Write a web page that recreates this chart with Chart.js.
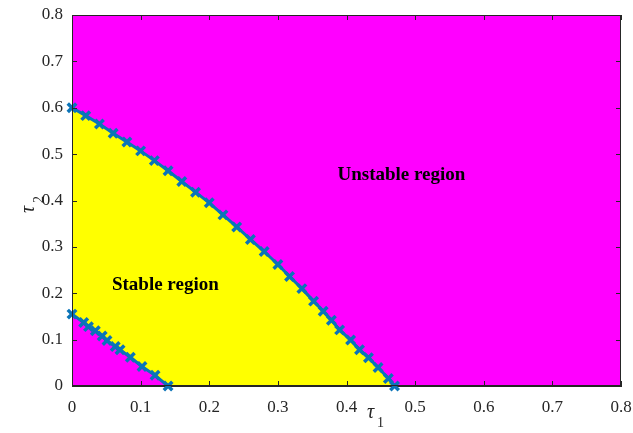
<!DOCTYPE html>
<html>
<head>
<meta charset="utf-8">
<script src="https://cdn.jsdelivr.net/npm/chart.js@4"></script>
<style>
  html, body { margin: 0; padding: 0; background: #fff; }
  #wrap { width: 633px; height: 433px; }
</style>
</head>
<body>
<div id="wrap"><canvas id="stab"></canvas></div>
<script>
// outer boundary of the stable region (tau1, tau2)
const outerX = [0, 0.02, 0.04, 0.06, 0.08, 0.10, 0.12, 0.14, 0.16, 0.18, 0.20, 0.22, 0.24, 0.26, 0.28, 0.30,
                0.317, 0.335, 0.352, 0.366, 0.378, 0.39, 0.406, 0.419, 0.432, 0.446, 0.461, 0.47];
const outerY = [0.600, 0.583, 0.565, 0.545, 0.526, 0.507, 0.486, 0.464, 0.441, 0.418, 0.395, 0.369, 0.343, 0.316, 0.290, 0.262,
                0.236, 0.210, 0.183, 0.161, 0.142, 0.121, 0.099, 0.078, 0.061, 0.040, 0.016, 0.0];

// inner boundary
const innerX = [0, 0.017, 0.024, 0.034, 0.044, 0.051, 0.063, 0.070, 0.085, 0.102, 0.121, 0.14];
const innerY = [0.155, 0.137, 0.128, 0.119, 0.108, 0.098, 0.085, 0.078, 0.062, 0.042, 0.023, 0.0];

const tickVals = [0, 0.1, 0.2, 0.3, 0.4, 0.5, 0.6, 0.7, 0.8];
const tickLabels = ['0', '0.1', '0.2', '0.3', '0.4', '0.5', '0.6', '0.7', '0.8'];

const regionLabels = [
  { text: 'Stable region', x: 0.136, y: 0.218 },
  { text: 'Unstable region', x: 0.48, y: 0.455 }
];

const toPts = (xs, ys) => xs.map((x, i) => ({ x: x, y: ys[i] }));

const axisCol = '#262626';
const lineCol = '#0b74b8';

// magenta background inside the axes
const bgPlugin = {
  id: 'bg',
  beforeDraw(chart) {
    const a = chart.chartArea, c = chart.ctx;
    c.save();
    c.fillStyle = '#FF00FF';
    c.fillRect(a.left, a.top, a.right - a.left, a.bottom - a.top);
    c.restore();
  }
};

// box, inward ticks, region texts and tau labels
const decoPlugin = {
  id: 'deco',
  afterDraw(chart) {
    const a = chart.chartArea, c = chart.ctx;
    const xs = chart.scales.x, ys = chart.scales.y;
    c.save();
    c.fillStyle = '#000';
    c.font = 'bold 19px "Liberation Serif"';
    c.textAlign = 'center';
    c.textBaseline = 'middle';
    regionLabels.forEach(l => {
      c.fillText(l.text, xs.getPixelForValue(l.x), ys.getPixelForValue(l.y));
    });

    c.strokeStyle = axisCol;
    c.lineWidth = 1;
    c.strokeRect(a.left + 0.5, a.top + 0.5, a.right - a.left - 1, a.bottom - a.top - 1);
    c.beginPath();
    tickVals.forEach(v => {
      const px = Math.round(xs.getPixelForValue(v)) + 0.5;
      c.moveTo(px, a.bottom); c.lineTo(px, a.bottom - 5);
      c.moveTo(px, a.top); c.lineTo(px, a.top + 5);
      const py = Math.round(ys.getPixelForValue(v)) + 0.5;
      c.moveTo(a.left, py); c.lineTo(a.left + 5, py);
      c.moveTo(a.right, py); c.lineTo(a.right - 5, py);
    });
    c.stroke();

    c.fillStyle = axisCol;
    c.textAlign = 'left';
    c.textBaseline = 'alphabetic';
    // tau_1
    c.font = 'italic 20px "Liberation Serif"';
    c.fillText('τ', 367, 418);
    c.font = '14px "Liberation Serif"';
    c.fillText('1', 377, 427);
    // tau_2
    c.translate(34, 213);
    c.rotate(-Math.PI / 2);
    c.font = 'italic 20px "Liberation Serif"';
    c.fillText('τ', 0, 0);
    c.font = '14px "Liberation Serif"';
    c.fillText('2', 10, 9);
    c.restore();
  }
};

new Chart(document.getElementById('stab'), {
  type: 'line',
  data: {
    datasets: [{
      label: 'outer',
      data: toPts(outerX, outerY),
      borderColor: lineCol,
      borderWidth: 3,
      backgroundColor: '#FFFF00',
      fill: 'origin',
      tension: 0,
      pointStyle: 'crossRot',
      pointRadius: 6,
      pointBorderWidth: 3.5,
      pointBorderColor: lineCol,
      clip: false,
      order: 2
    }, {
      label: 'inner',
      data: toPts(innerX, innerY),
      borderColor: lineCol,
      borderWidth: 3,
      backgroundColor: '#FF00FF',
      fill: 'origin',
      tension: 0,
      pointStyle: 'crossRot',
      pointRadius: 6,
      pointBorderWidth: 3.5,
      pointBorderColor: lineCol,
      clip: false,
      order: 1
    }]
  },
  options: {
    responsive: true,
    maintainAspectRatio: false,
    animation: false,
    layout: { padding: { left: 0, right: 12, top: 15, bottom: 0 } },
    plugins: { legend: { display: false }, tooltip: { enabled: false } },
    scales: {
      x: {
        type: 'linear',
        min: 0, max: 0.8,
        grid: { display: false, drawTicks: false },
        border: { display: true, color: axisCol },
        afterBuildTicks: s => { s.ticks = tickVals.map(v => ({ value: v })); },
        afterFit: s => { s.height = 47; s.paddingLeft = 0; s.paddingRight = 0; },
        ticks: {
          padding: 11,
          color: axisCol,
          font: { family: 'Liberation Serif', size: 17 },
          maxRotation: 0,
          callback: (v, i) => tickLabels[i]
        }
      },
      y: {
        type: 'linear',
        min: 0, max: 0.8,
        grid: { display: false, drawTicks: false },
        border: { display: true, color: axisCol },
        afterBuildTicks: s => { s.ticks = tickVals.map(v => ({ value: v })); },
        afterFit: s => { s.width = 72; s.paddingTop = 0; s.paddingBottom = 0; },
        ticks: {
          padding: 9,
          color: axisCol,
          font: { family: 'Liberation Serif', size: 17 },
          callback: (v, i) => tickLabels[i]
        }
      }
    }
  },
  plugins: [bgPlugin, decoPlugin]
});
</script>
</body>
</html>
